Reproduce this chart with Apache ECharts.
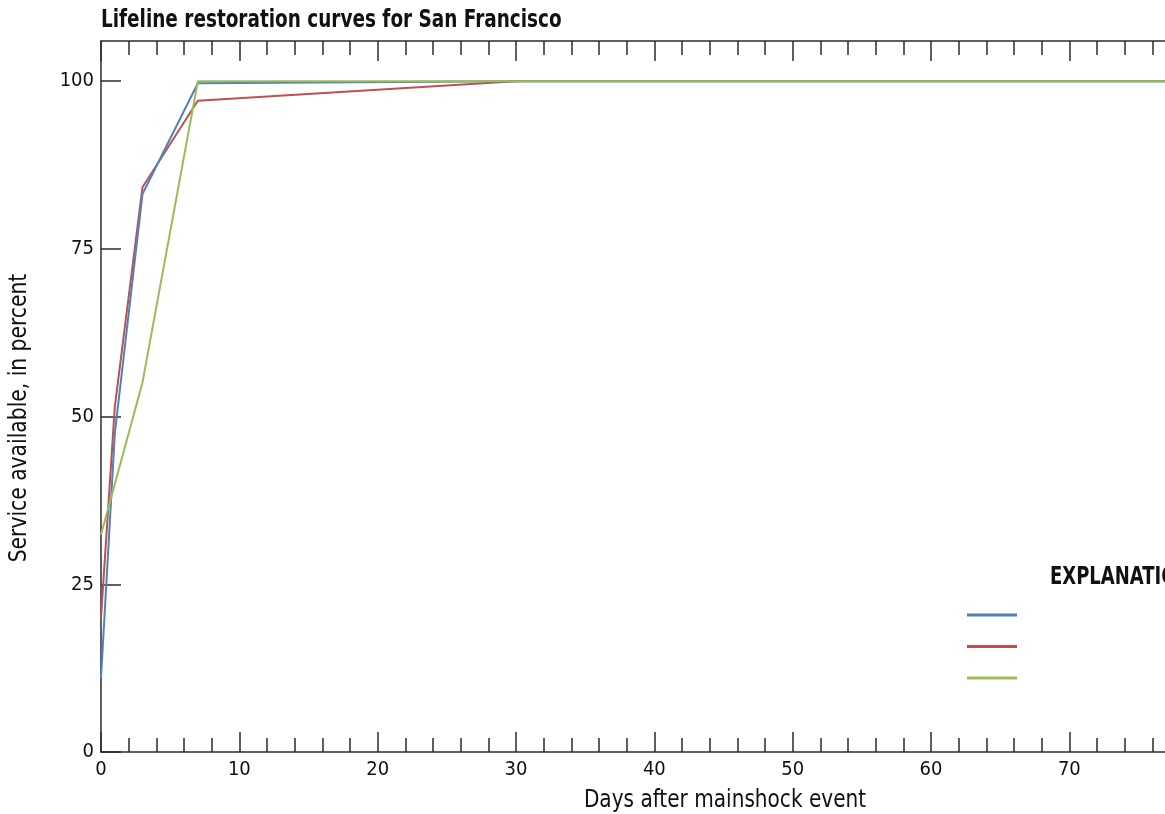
<!DOCTYPE html>
<html>
<head>
<meta charset="utf-8">
<script src="https://cdn.jsdelivr.net/npm/echarts@6/dist/echarts.min.js"></script>
<style>
html,body{margin:0;padding:0;background:#fff;overflow:hidden;}
#c{width:1165px;height:814px;}
</style>
</head>
<body>
<div id="c"></div>
<script>
const seriesNames = ['Electric power', 'Natural gas', 'Water'];
const blueDays = [0, 1, 3, 7, 30, 90];
const blueVals = [11, 47.5, 83.2, 99.7, 100, 100];
const redDays = [0, 1, 3, 7, 30, 90];
const redVals = [20, 51.5, 84.2, 97.1, 100, 100];
const greenDays = [0, 3, 7, 30, 90];
const greenVals = [32.4, 55.1, 100, 100, 100];
const yTicks = [0, 25, 50, 75, 100];
const xTicks = [0, 10, 20, 30, 40, 50, 60, 70, 80, 90];

const FONT = "'DejaVu Sans Condensed','Liberation Sans Narrow','Liberation Sans',sans-serif";
const AX = '#2b2b2b';
const TXT = '#111';
const pairs = (d, v) => d.map((x, i) => [x, v[i]]);

const chart = echarts.init(document.getElementById('c'), null, {renderer: 'canvas'});
const xCommon = {
  type: 'value', min: 0, max: 90, interval: 10,
  axisLine: {show: true, lineStyle: {color: AX, width: 1.5}},
  axisTick: {show: true, inside: true, length: 20, lineStyle: {color: AX, width: 1.5}, customValues: xTicks},
  minorTick: {show: true, splitNumber: 5, length: 14, lineStyle: {color: AX, width: 1.5}},
  splitLine: {show: false}, minorSplitLine: {show: false}
};
chart.setOption({
  animation: false,
  backgroundColor: '#ffffff',
  legend: {
    orient: 'vertical', left: 967, top: 608, padding: 0,
    icon: 'rect', itemWidth: 50, itemHeight: 3, itemGap: 17.5,
    data: seriesNames,
    textStyle: {fontFamily: FONT, fontSize: 14, color: TXT, padding: [0, 0, 0, 300]}
  },
  grid: {left: 101, top: 41, bottom: 62, right: -181, containLabel: false, outerBoundsMode: 'none'},
  xAxis: [
    Object.assign({}, xCommon, {
      position: 'bottom',
      axisLabel: {show: true, margin: 8, fontFamily: FONT, fontSize: 20, color: TXT,
                  customValues: xTicks}
    }),
    Object.assign({}, xCommon, {
      position: 'top',
      axisLabel: {show: false}
    })
  ],
  yAxis: {
    type: 'value', min: 0, max: 106,
    axisLine: {show: true, lineStyle: {color: AX, width: 1.5}},
    axisTick: {show: true, inside: true, length: 20, lineStyle: {color: AX, width: 1.5},
               customValues: yTicks},
    axisLabel: {show: true, margin: 7, fontFamily: FONT, fontSize: 20, color: TXT,
                customValues: yTicks},
    splitLine: {show: false}
  },
  graphic: [
    {type: 'text', x: 101, y: 20, scaleX: 0.82,
     style: {text: 'Lifeline restoration curves for San Francisco', font: 'bold 25px ' + FONT, fill: TXT,
             align: 'left', verticalAlign: 'middle'}},
    {type: 'text', x: 1050, y: 577, scaleX: 0.8,
     style: {text: 'EXPLANATION', font: 'bold 25px ' + FONT, fill: TXT,
             align: 'left', verticalAlign: 'middle'}},
    {type: 'text', x: 725, y: 801, scaleX: 0.93,
     style: {text: 'Days after mainshock event', font: '24px ' + FONT, fill: TXT,
             align: 'center', verticalAlign: 'middle'}},
    {type: 'text', x: 20, y: 418, rotation: Math.PI / 2, scaleX: 0.94,
     style: {text: 'Service available, in percent', font: '24px ' + FONT, fill: TXT,
             align: 'center', verticalAlign: 'middle'}}
  ],
  series: [
    {name: seriesNames[0], type: 'line', data: pairs(blueDays, blueVals), showSymbol: false,
     lineStyle: {color: '#4f81bd', width: 2}, itemStyle: {color: '#4f81bd'}, z: 3},
    {name: seriesNames[1], type: 'line', data: pairs(redDays, redVals), showSymbol: false,
     lineStyle: {color: '#c0504d', width: 2}, itemStyle: {color: '#c0504d'}, z: 2},
    {name: seriesNames[2], type: 'line', data: pairs(greenDays, greenVals), showSymbol: false,
     lineStyle: {color: '#9bbb59', width: 2}, itemStyle: {color: '#9bbb59'}, z: 4}
  ]
});
</script>
</body>
</html>
